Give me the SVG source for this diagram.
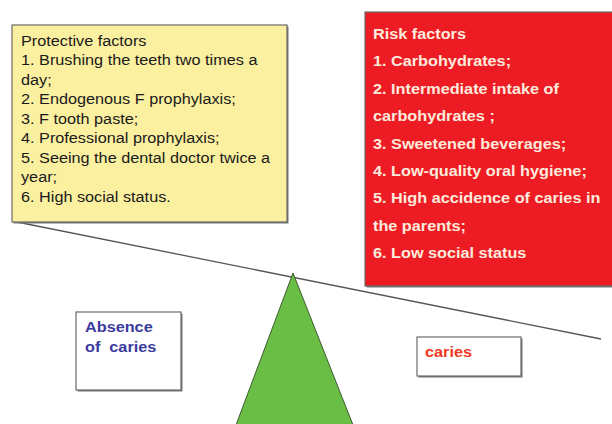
<svg xmlns="http://www.w3.org/2000/svg" width="612" height="424" viewBox="0 0 612 424">
<style>
.t{font-family:"Liberation Sans",Arial,sans-serif;font-size:14px}
.pt{fill:#1a1a1a}
.rt{fill:#fcebdd;font-weight:bold}
.box{stroke:#6a6a6a;stroke-width:1.2}
.shadow{fill:#777}
</style>
<rect width="612" height="424" fill="#ffffff"/>
<g id="connectors">
<line x1="12" y1="221" x2="601" y2="339" stroke="#555" stroke-width="1.3"/>
</g>
<g id="fulcrum">
<polygon points="293,273 236,425 353,425" fill="#6bbe45" stroke="#3d5a30" stroke-width="1"/>
</g>
<g id="protective">
<rect x="13.5" y="26.5" width="275" height="197" class="shadow"/>
<rect x="12" y="25" width="275" height="197" fill="#faf0a0" class="box"/>
<g transform="translate(21,0) scale(1.16,1)" class="t pt">
<text x="0" y="46">Protective factors</text>
<text x="0" y="65.5">1. Brushing the teeth two times a</text>
<text x="0" y="85">day;</text>
<text x="0" y="104.5">2. Endogenous F prophylaxis;</text>
<text x="0" y="124">3. F tooth paste;</text>
<text x="0" y="143.5">4. Professional prophylaxis;</text>
<text x="0" y="163">5. Seeing the dental doctor twice a</text>
<text x="0" y="182.5">year;</text>
<text x="0" y="202">6. High social status.</text>
</g>
</g>
<g id="risk">
<rect x="366.5" y="13.5" width="250" height="274" class="shadow"/>
<rect x="365" y="12" width="250" height="274" fill="#ed1c24" class="box"/>
<g transform="translate(373,0) scale(1.16,1)" class="t rt">
<text x="0" y="39">Risk factors</text>
<text x="0" y="66.4">1. Carbohydrates;</text>
<text x="0" y="93.8">2. Intermediate intake of</text>
<text x="0" y="121.2">carbohydrates ;</text>
<text x="0" y="148.6">3. Sweetened beverages;</text>
<text x="0" y="176">4. Low-quality oral hygiene;</text>
<text x="0" y="203.4">5. High accidence of caries in</text>
<text x="0" y="230.8">the parents;</text>
<text x="0" y="258.2">6. Low social status</text>
</g>
</g>
<g id="absence">
<rect x="77.5" y="313.5" width="105" height="78" class="shadow"/>
<rect x="76" y="312" width="105" height="78" fill="#ffffff" class="box"/>
<g transform="translate(85,0) scale(1.16,1)" class="t" font-weight="bold" fill="#3b3b9e">
<text x="0" y="331.7">Absence</text>
<text x="0" y="351.7" xml:space="preserve">of  caries</text>
</g>
</g>
<g id="caries">
<rect x="418.5" y="338.5" width="104" height="39" class="shadow"/>
<rect x="417" y="337" width="104" height="39" fill="#ffffff" class="box"/>
<g transform="translate(425,0) scale(1.16,1)" class="t" font-weight="bold" fill="#ee3a24">
<text x="0" y="357">caries</text>
</g>
</g>
</svg>
